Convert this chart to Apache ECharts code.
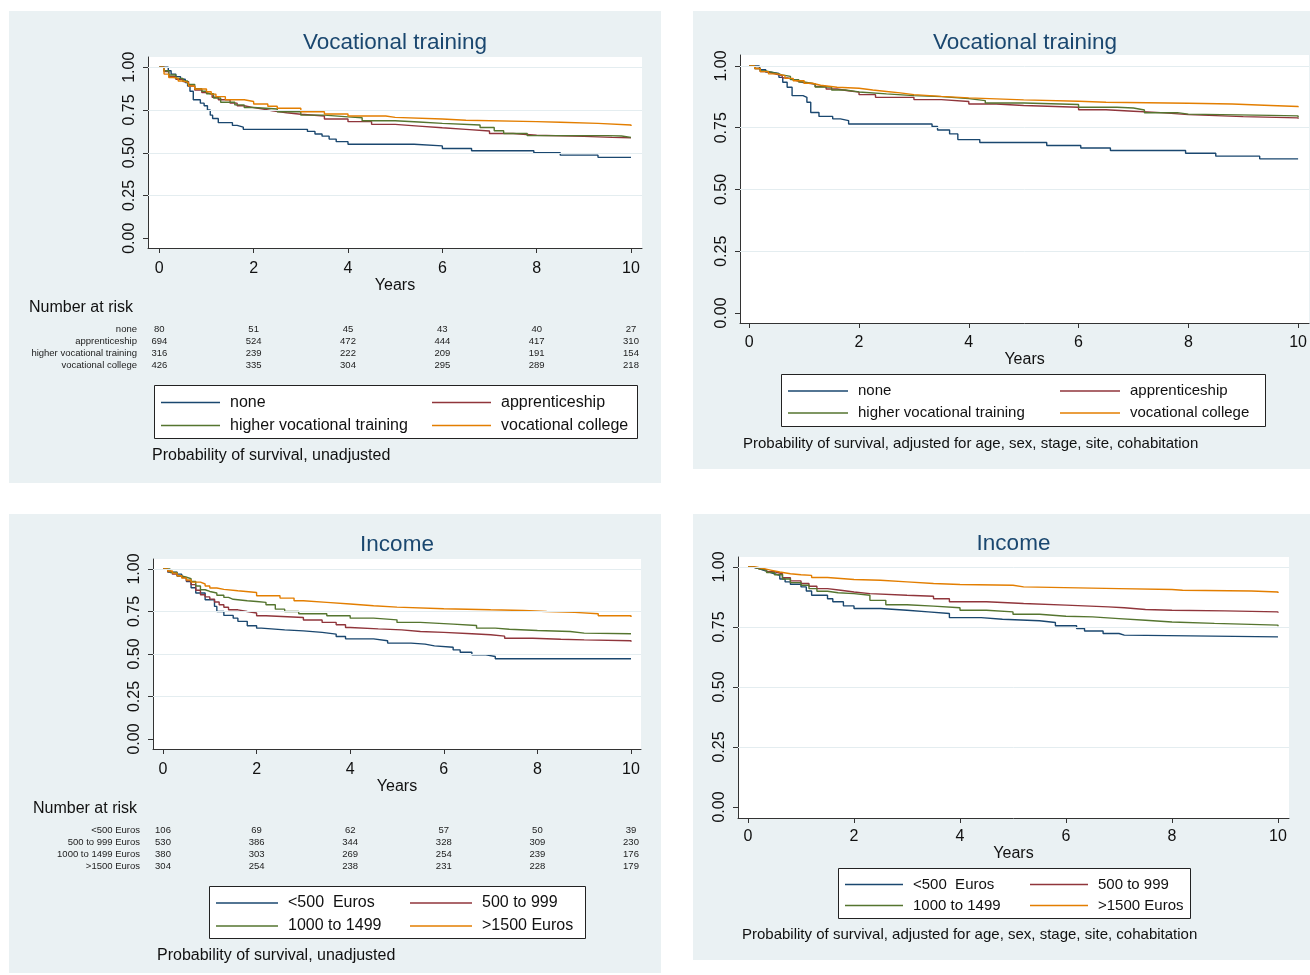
<!DOCTYPE html>
<html>
<head>
<meta charset="utf-8">
<script src="https://cdn.jsdelivr.net/npm/echarts@6/dist/echarts.min.js"></script>
<style>
  html, body { margin: 0; padding: 0; background: #ffffff; }
  #main { width: 1310px; height: 975px; }
</style>
</head>
<body>
<div id="main"></div>
<script>
// ---- data ----
const years = [0, 2, 4, 6, 8, 10];
const yTicks = [0, 0.25, 0.5, 0.75, 1];

const vocNames = ['none', 'apprenticeship', 'higher vocational training', 'vocational college'];
const incNames = ['<500  Euros', '500 to 999', '1000 to 1499', '>1500 Euros'];
const incRiskLabels = ['<500 Euros', '500 to 999 Euros', '1000 to 1499 Euros', '>1500 Euros'];

// number at risk at 0,2,4,6,8,10 years
const riskVoc = [
  [80, 51, 45, 43, 40, 27],
  [694, 524, 472, 444, 417, 310],
  [316, 239, 222, 209, 191, 154],
  [426, 335, 304, 295, 289, 218]
];
const riskInc = [
  [106, 69, 62, 57, 50, 39],
  [530, 386, 344, 328, 309, 230],
  [380, 303, 269, 254, 239, 176],
  [304, 254, 238, 231, 228, 179]
];

// vocational training, unadjusted  [years, survival]
const vocNoneUnadj = [[0,1],[0.19,0.98],[0.25,0.96],[0.35,0.945],[0.45,0.93],[0.55,0.91],[0.6,0.89],[0.65,0.86],[0.72,0.81],[0.87,0.79],[0.95,0.775],[1.02,0.75],[1.08,0.72],[1.13,0.7],[1.25,0.676],[1.55,0.66],[1.65,0.65],[1.78,0.637],[3.14,0.625],[3.3,0.61],[3.45,0.597],[3.6,0.58],[3.75,0.565],[4.0,0.55],[5.4,0.54],[6.0,0.525],[6.62,0.512],[7.94,0.5],[8.5,0.486],[9.3,0.473],[10,0.473]];
const vocAppUnadj = [[0,1],[0.1,0.975],[0.2,0.945],[0.35,0.93],[0.5,0.916],[0.62,0.89],[0.75,0.867],[0.9,0.852],[1.0,0.842],[1.12,0.825],[1.25,0.81],[1.5,0.79],[1.65,0.775],[1.8,0.764],[2.0,0.756],[2.2,0.745],[2.4,0.734],[2.7,0.725],[3.0,0.715],[3.5,0.697],[4.0,0.682],[4.5,0.666],[5.0,0.656],[5.5,0.646],[6.0,0.637],[6.5,0.627],[7.0,0.613],[7.5,0.602],[8.0,0.596],[9.0,0.59],[9.6,0.588],[10,0.586]];
const vocHighUnadj = [[0,1],[0.1,0.98],[0.2,0.955],[0.35,0.935],[0.5,0.92],[0.6,0.9],[0.75,0.875],[0.9,0.86],[1.0,0.845],[1.15,0.82],[1.3,0.795],[1.6,0.78],[1.8,0.765],[2.0,0.756],[2.5,0.74],[3.0,0.72],[3.5,0.71],[4.0,0.705],[4.3,0.687],[5.0,0.68],[5.5,0.672],[6.0,0.662],[6.8,0.648],[7.1,0.629],[7.3,0.613],[7.8,0.6],[9.5,0.598],[9.8,0.59],[10,0.588]];
const vocCollUnadj = [[0,1],[0.1,0.96],[0.2,0.94],[0.3,0.935],[0.4,0.92],[0.5,0.91],[0.62,0.89],[0.75,0.873],[1.0,0.857],[1.1,0.843],[1.2,0.828],[1.4,0.81],[1.8,0.8],[2.0,0.785],[2.3,0.772],[2.5,0.76],[3.0,0.74],[3.5,0.727],[4.0,0.715],[4.8,0.707],[5.0,0.697],[6.0,0.69],[6.5,0.682],[8.0,0.678],[8.5,0.672],[9.3,0.662],[10,0.656]];

// vocational training, adjusted
const vocNoneAdj = [[0,1],[0.18,1],[0.2,0.985],[0.3,0.975],[0.4,0.97],[0.54,0.954],[0.61,0.934],[0.69,0.914],[0.78,0.88],[0.98,0.873],[1.05,0.853],[1.12,0.812],[1.27,0.796],[1.52,0.786],[1.66,0.779],[1.81,0.765],[3.33,0.755],[3.43,0.741],[3.65,0.725],[3.8,0.702],[4.2,0.69],[5.42,0.678],[6.04,0.668],[6.58,0.658],[7.95,0.647],[8.5,0.635],[9.3,0.624],[10,0.624]];
const vocAppAdj = [[0,1],[0.1,0.99],[0.2,0.978],[0.3,0.972],[0.4,0.966],[0.5,0.961],[0.6,0.952],[0.7,0.945],[0.8,0.938],[0.9,0.932],[1.0,0.927],[1.2,0.917],[1.4,0.907],[1.6,0.9],[1.8,0.894],[2.0,0.884],[2.3,0.873],[3.0,0.864],[3.5,0.856],[4.0,0.846],[4.5,0.84],[5.0,0.833],[6.0,0.823],[6.5,0.817],[7.0,0.811],[7.5,0.803],[8.0,0.795],[9.0,0.79],[10,0.786]];
const vocHighAdj = [[0,1],[0.1,0.99],[0.2,0.98],[0.3,0.975],[0.4,0.97],[0.5,0.964],[0.6,0.958],[0.75,0.945],[0.9,0.935],[1.0,0.927],[1.2,0.915],[1.5,0.903],[1.75,0.895],[2.0,0.887],[2.5,0.88],[3.0,0.876],[3.5,0.868],[4.0,0.86],[4.3,0.85],[5.0,0.844],[6.0,0.833],[6.7,0.83],[7.0,0.822],[7.2,0.811],[7.8,0.805],[8.0,0.8],[9.5,0.798],[10,0.792]];
const vocCollAdj = [[0,1],[0.1,0.99],[0.2,0.977],[0.35,0.968],[0.5,0.961],[0.65,0.95],[0.8,0.94],[1.0,0.93],[1.15,0.922],[1.3,0.914],[1.6,0.91],[2.0,0.903],[2.25,0.897],[2.5,0.891],[2.75,0.884],[3.0,0.877],[3.5,0.871],[4.0,0.867],[4.5,0.863],[5.0,0.857],[6.0,0.853],[6.5,0.849],[8.0,0.846],[8.8,0.84],[9.5,0.836],[10,0.833]];

// income, unadjusted
const inc1Unadj = [[0,1],[0.1,0.982],[0.3,0.97],[0.4,0.95],[0.5,0.927],[0.6,0.89],[0.7,0.859],[0.9,0.819],[1.1,0.78],[1.15,0.75],[1.3,0.727],[1.5,0.711],[1.6,0.692],[1.8,0.666],[2.0,0.652],[2.1,0.642],[2.6,0.636],[3.0,0.627],[3.4,0.617],[3.7,0.603],[3.9,0.589],[4.5,0.578],[4.8,0.564],[5.3,0.558],[5.6,0.548],[5.8,0.54],[6.2,0.524],[6.35,0.51],[6.6,0.495],[6.9,0.485],[7.1,0.472],[10,0.47]];
const inc2Unadj = [[0,1],[0.1,0.985],[0.2,0.97],[0.3,0.958],[0.4,0.947],[0.5,0.93],[0.6,0.908],[0.7,0.875],[0.8,0.849],[0.9,0.836],[1.0,0.823],[1.1,0.806],[1.2,0.79],[1.3,0.775],[1.4,0.76],[1.6,0.75],[1.8,0.741],[2.0,0.725],[2.2,0.715],[3.0,0.7],[3.4,0.686],[3.7,0.672],[3.9,0.656],[4.0,0.648],[4.6,0.642],[5.1,0.632],[5.5,0.627],[6.0,0.619],[6.6,0.613],[7.0,0.605],[7.3,0.593],[7.9,0.587],[8.5,0.583],[9.0,0.578],[10,0.572]];
const inc3Unadj = [[0,1],[0.15,0.98],[0.3,0.96],[0.4,0.952],[0.5,0.943],[0.6,0.927],[0.7,0.9],[0.8,0.878],[0.9,0.868],[1.0,0.859],[1.15,0.846],[1.3,0.833],[1.4,0.822],[1.5,0.813],[1.8,0.809],[2.0,0.804],[2.2,0.79],[2.4,0.764],[2.6,0.75],[2.9,0.737],[3.5,0.725],[4.0,0.711],[4.5,0.701],[5.0,0.686],[5.5,0.676],[6.2,0.668],[6.7,0.652],[7.1,0.646],[7.4,0.638],[8.0,0.632],[8.7,0.623],[9.0,0.619],[10,0.617]];
const inc4Unadj = [[0,1],[0.1,0.988],[0.2,0.976],[0.3,0.96],[0.4,0.947],[0.5,0.935],[0.6,0.923],[0.8,0.912],[0.9,0.9],[1.0,0.888],[1.15,0.88],[1.3,0.872],[1.6,0.862],[2.0,0.843],[2.5,0.829],[2.8,0.813],[3.0,0.804],[3.5,0.794],[4.0,0.784],[4.5,0.776],[5.0,0.766],[6.0,0.76],[7.0,0.756],[7.7,0.75],[8.2,0.745],[8.8,0.737],[9.3,0.725],[10,0.717]];

// income, adjusted
const inc1Adj = [[0,1],[0.1,0.993],[0.2,0.986],[0.3,0.979],[0.4,0.972],[0.5,0.965],[0.6,0.95],[0.7,0.938],[0.8,0.928],[1.0,0.917],[1.1,0.9],[1.2,0.882],[1.5,0.868],[1.6,0.855],[1.8,0.838],[2.0,0.827],[2.5,0.82],[3.0,0.813],[3.4,0.806],[3.8,0.789],[4.4,0.782],[4.8,0.776],[5.5,0.769],[5.8,0.755],[6.2,0.744],[6.35,0.733],[6.7,0.723],[7.0,0.716],[7.1,0.709],[10,0.709]];
const inc2Adj = [[0,1],[0.1,0.994],[0.2,0.989],[0.35,0.98],[0.5,0.972],[0.65,0.955],[0.8,0.942],[1.0,0.931],[1.15,0.92],[1.3,0.91],[1.5,0.903],[1.75,0.896],[2.0,0.889],[2.3,0.882],[3.0,0.878],[3.5,0.868],[3.8,0.855],[4.5,0.848],[5.2,0.841],[6.0,0.834],[6.8,0.83],[7.1,0.823],[7.5,0.82],[8.0,0.817],[9.0,0.813],[10,0.809]];
const inc3Adj = [[0,1],[0.1,0.993],[0.2,0.986],[0.35,0.977],[0.5,0.968],[0.65,0.95],[0.8,0.935],[1.0,0.924],[1.15,0.91],[1.3,0.899],[1.5,0.893],[1.7,0.889],[2.0,0.882],[2.3,0.861],[2.6,0.843],[3.0,0.837],[3.5,0.83],[4.0,0.82],[4.5,0.813],[5.0,0.803],[5.5,0.795],[6.0,0.792],[6.5,0.785],[7.0,0.778],[7.5,0.771],[8.0,0.765],[8.8,0.758],[10,0.753]];
const inc4Adj = [[0,1],[0.15,0.993],[0.3,0.986],[0.45,0.979],[0.6,0.972],[0.8,0.968],[1.0,0.965],[1.2,0.956],[1.5,0.952],[1.75,0.948],[2.0,0.945],[2.5,0.938],[3.0,0.931],[3.5,0.927],[4.0,0.924],[5.0,0.917],[5.2,0.91],[7.0,0.906],[8.0,0.903],[8.2,0.9],[9.5,0.896],[10,0.892]];

// ---- layout ----
const COLORS = ['#1a476f', '#90353b', '#55752f', '#e37e00'];
const FONT = '"Liberation Sans", Arial, sans-serif';
const AXIS = '#333333';

const panels = [
  { bg: [9, 11, 652, 472], grid: [148, 57, 494, 191], x: [-0.24, 10.233], y: [-0.057, 1.06],
    title: 'Vocational training', titleY: 43, names: vocNames,
    data: [vocNoneUnadj, vocAppUnadj, vocHighUnadj, vocCollUnadj],
    xMargin: 12.5, nameGap: 29, legendFont: 16, box: [154, 385, 483, 53], cols: [161, 432], rowY: 402.5, rowGap: 23,
    lineW: 59, caption: 'Probability of survival, unadjusted', capX: 152, capY: 456, capFont: 16 },
  { bg: [693, 11, 617, 458], grid: [740, 55, 570, 268], x: [-0.169, 10.2], y: [-0.0405, 1.0445],
    title: 'Vocational training', titleY: 43, names: vocNames,
    data: [vocNoneAdj, vocAppAdj, vocHighAdj, vocCollAdj],
    xMargin: 11.5, nameGap: 27.5, legendFont: 15, box: [781, 374, 484, 52], cols: [788, 1060], rowY: 391, rowGap: 22,
    lineW: 60, caption: 'Probability of survival, adjusted for age, sex, stage, site, cohabitation', capX: 743, capY: 443.5, capFont: 15 },
  { bg: [9, 514, 652, 459], grid: [153, 559, 488, 190], x: [-0.214, 10.214], y: [-0.059, 1.059],
    title: 'Income', titleY: 545, names: incNames,
    data: [inc1Unadj, inc2Unadj, inc3Unadj, inc4Unadj],
    xMargin: 12.5, nameGap: 29, legendFont: 16, box: [209, 886, 376, 52], cols: [216, 410], rowY: 903, rowGap: 23,
    lineW: 62, caption: 'Probability of survival, unadjusted', capX: 157, capY: 956, capFont: 16 },
  { bg: [693, 514, 617, 446], grid: [738, 557, 551, 261], x: [-0.189, 10.208], y: [-0.046, 1.0417],
    title: 'Income', titleY: 544, names: incNames,
    data: [inc1Adj, inc2Adj, inc3Adj, inc4Adj],
    xMargin: 10.5, nameGap: 26.5, legendFont: 15, box: [838, 868, 352, 50], cols: [845, 1030], rowY: 884.5, rowGap: 21,
    lineW: 58, caption: 'Probability of survival, adjusted for age, sex, stage, site, cohabitation', capX: 742, capY: 934.5, capFont: 15 }
];

const grids = [], xAxes = [], yAxes = [], series = [], legends = [], graphics = [];

panels.forEach((p, i) => {
  grids.push({ left: p.grid[0], top: p.grid[1], width: p.grid[2], height: p.grid[3],
    show: true, backgroundColor: '#ffffff', borderWidth: 0, containLabel: false });

  xAxes.push({
    gridIndex: i, type: 'value', min: p.x[0], max: p.x[1],
    axisLine: { show: true, onZero: false, lineStyle: { color: AXIS, width: 1 } },
    axisTick: { show: true, customValues: years, length: 5, lineStyle: { color: AXIS } },
    axisLabel: { customValues: years, margin: p.xMargin, fontSize: 16, color: '#111', fontFamily: FONT },
    splitLine: { show: false },
    name: 'Years', nameLocation: 'middle', nameGap: p.nameGap,
    nameTextStyle: { fontSize: 16, color: '#111', fontFamily: FONT }
  });

  yAxes.push({
    gridIndex: i, type: 'value', min: p.y[0], max: p.y[1],
    axisLine: { show: true, onZero: false, lineStyle: { color: AXIS, width: 1 } },
    axisTick: { show: true, customValues: yTicks, length: 5, lineStyle: { color: AXIS } },
    axisLabel: { customValues: yTicks, rotate: 90, margin: 10, fontSize: 16, color: '#111', fontFamily: FONT,
      formatter: v => v.toFixed(2) },
    splitLine: { show: false }
  });

  p.data.forEach((d, k) => {
    series.push({
      name: p.names[k], type: 'line', step: 'end', data: d,
      xAxisIndex: i, yAxisIndex: i, symbol: 'none', showSymbol: false,
      color: COLORS[k], lineStyle: { width: 1.4, color: COLORS[k] },
      z: 3 + (k === 3 ? 1 : 0),
      // light horizontal grid lines at the y ticks
      markLine: k === 0 ? {
        silent: true, symbol: 'none', label: { show: false }, animation: false,
        lineStyle: { color: '#e4edf0', width: 1, type: 'solid' },
        data: yTicks.slice(1).map(v => ({ yAxis: v }))
      } : undefined
    });
  });

  // two legend columns per panel
  [[0, 2], [1, 3]].forEach((idx, c) => {
    legends.push({
      orient: 'vertical', left: p.cols[c], top: p.rowY - p.rowGap / 2 + 1.5,
      padding: 0, itemGap: 3, itemWidth: p.lineW, itemHeight: 1.5, icon: 'rect',
      selectedMode: false,
      textStyle: { fontSize: p.legendFont, color: '#111', fontFamily: FONT,
        lineHeight: p.rowGap - 3, padding: [0, 0, 0, 5] },
      data: idx.map(k => p.names[k])
    });
  });

  graphics.push(
    { type: 'rect', z: -10, shape: { x: p.bg[0], y: p.bg[1], width: p.bg[2], height: p.bg[3] },
      style: { fill: '#eaf1f3' } },
    { type: 'rect', z: 1, shape: { x: p.box[0] + 0.5, y: p.box[1] + 0.5, width: p.box[2], height: p.box[3] },
      style: { fill: '#ffffff', stroke: '#222', lineWidth: 1 } },
    { type: 'text', x: p.grid[0] + p.grid[2] / 2, y: p.titleY,
      style: { text: p.title, font: '22.5px ' + FONT, fill: '#1a476f', align: 'center', verticalAlign: 'middle' } },
    { type: 'text', x: p.capX, y: p.capY,
      style: { text: p.caption, font: p.capFont + 'px ' + FONT, fill: '#111', align: 'left', verticalAlign: 'middle' } }
  );
});

const chart = echarts.init(document.getElementById('main'), null, { renderer: 'canvas' });
chart.setOption({
  animation: false,
  textStyle: { fontFamily: FONT },
  grid: grids, xAxis: xAxes, yAxis: yAxes, series: series, legend: legends
});

// number-at-risk tables under the unadjusted panels, aligned on the x axis ticks
function riskTable(panelIdx, labels, counts, headX, headY, labelRight, firstRowY, rowStep) {
  const out = [{ type: 'text', x: headX, y: headY,
    style: { text: 'Number at risk', font: '16px ' + FONT, fill: '#111', align: 'left', verticalAlign: 'middle' } }];
  counts.forEach((row, r) => {
    const y = firstRowY + r * rowStep;
    out.push({ type: 'text', x: labelRight, y: y,
      style: { text: labels[r], font: '9.5px ' + FONT, fill: '#222', align: 'right', verticalAlign: 'middle' } });
    row.forEach((n, c) => {
      const px = chart.convertToPixel({ xAxisIndex: panelIdx }, years[c]);
      out.push({ type: 'text', x: px, y: y,
        style: { text: String(n), font: '9.5px ' + FONT, fill: '#222', align: 'center', verticalAlign: 'middle' } });
    });
  });
  return out;
}

const tables = riskTable(0, vocNames, riskVoc, 29, 308, 137, 329.5, 11.9)
  .concat(riskTable(2, incRiskLabels, riskInc, 33, 809, 140, 830.5, 11.9));

chart.setOption({ graphic: graphics.concat(tables) });
</script>
</body>
</html>
